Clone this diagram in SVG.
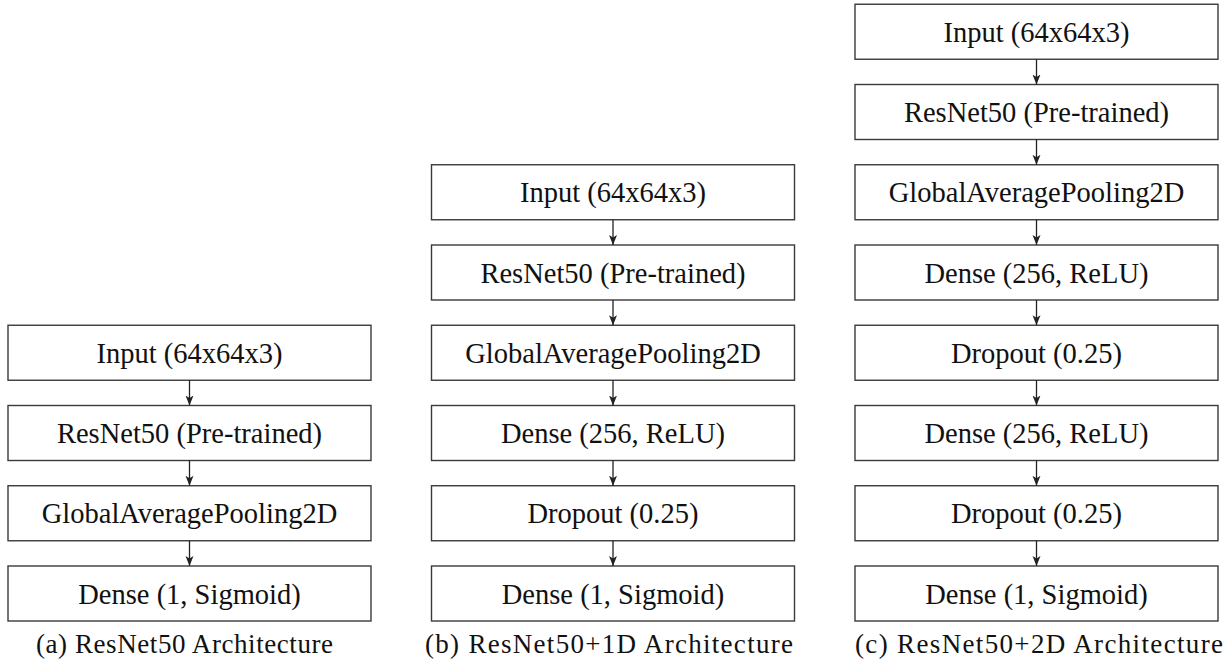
<svg xmlns="http://www.w3.org/2000/svg" width="1227" height="671" viewBox="0 0 1227 671">
<defs>
<marker id="ah" viewBox="0 0 10 10" refX="10" refY="5" markerWidth="10" markerHeight="10" markerUnits="userSpaceOnUse" orient="auto">
<path d="M0,1 L10,5 L0,9 L2.5,5 Z" fill="#222"/>
</marker>
</defs>
<style>
.box{fill:#fff;stroke:#3a3a3a;stroke-width:1.4}
.lbl{font-family:"Liberation Serif","Times New Roman",serif;font-size:28.5px;fill:#111;text-anchor:middle}
.cap{font-family:"Liberation Serif","Times New Roman",serif;font-size:27px;fill:#111;text-anchor:middle}
.arr{stroke:#222;stroke-width:1.3;fill:none;marker-end:url(#ah)}
</style>
<rect width="1227" height="671" fill="#fff"/>

<!-- Column a -->
<g id="a1"><rect class="box" x="8" y="325.25" width="363" height="55"/><text class="lbl" x="189.5" y="362.75">Input (64x64x3)</text></g>
<g id="a2"><rect class="box" x="8" y="405.5" width="363" height="55"/><text class="lbl" x="189.5" y="443">ResNet50 (Pre-trained)</text></g>
<g id="a3"><rect class="box" x="8" y="485.75" width="363" height="55"/><text class="lbl" x="189.5" y="523.25">GlobalAveragePooling2D</text></g>
<g id="a4"><rect class="box" x="8" y="566" width="363" height="55"/><text class="lbl" x="189.5" y="603.5">Dense (1, Sigmoid)</text></g>

<!-- Column b -->
<g id="b1"><rect class="box" x="431.5" y="164.75" width="363" height="55"/><text class="lbl" x="613" y="202.25">Input (64x64x3)</text></g>
<g id="b2"><rect class="box" x="431.5" y="245" width="363" height="55"/><text class="lbl" x="613" y="282.5">ResNet50 (Pre-trained)</text></g>
<g id="b3"><rect class="box" x="431.5" y="325.25" width="363" height="55"/><text class="lbl" x="613" y="362.75">GlobalAveragePooling2D</text></g>
<g id="b4"><rect class="box" x="431.5" y="405.5" width="363" height="55"/><text class="lbl" x="613" y="443">Dense (256, ReLU)</text></g>
<g id="b5"><rect class="box" x="431.5" y="485.75" width="363" height="55"/><text class="lbl" x="613" y="523.25">Dropout (0.25)</text></g>
<g id="b6"><rect class="box" x="431.5" y="566" width="363" height="55"/><text class="lbl" x="613" y="603.5">Dense (1, Sigmoid)</text></g>

<!-- Column c -->
<g id="c1"><rect class="box" x="855" y="4.25" width="363" height="55"/><text class="lbl" x="1036.5" y="41.75">Input (64x64x3)</text></g>
<g id="c2"><rect class="box" x="855" y="84.5" width="363" height="55"/><text class="lbl" x="1036.5" y="122">ResNet50 (Pre-trained)</text></g>
<g id="c3"><rect class="box" x="855" y="164.75" width="363" height="55"/><text class="lbl" x="1036.5" y="202.25">GlobalAveragePooling2D</text></g>
<g id="c4"><rect class="box" x="855" y="245" width="363" height="55"/><text class="lbl" x="1036.5" y="282.5">Dense (256, ReLU)</text></g>
<g id="c5"><rect class="box" x="855" y="325.25" width="363" height="55"/><text class="lbl" x="1036.5" y="362.75">Dropout (0.25)</text></g>
<g id="c6"><rect class="box" x="855" y="405.5" width="363" height="55"/><text class="lbl" x="1036.5" y="443">Dense (256, ReLU)</text></g>
<g id="c7"><rect class="box" x="855" y="485.75" width="363" height="55"/><text class="lbl" x="1036.5" y="523.25">Dropout (0.25)</text></g>
<g id="c8"><rect class="box" x="855" y="566" width="363" height="55"/><text class="lbl" x="1036.5" y="603.5">Dense (1, Sigmoid)</text></g>

<g id="connectors">
<line class="arr" x1="189.5" y1="380.25" x2="189.5" y2="405.5"/>
<line class="arr" x1="189.5" y1="460.5" x2="189.5" y2="485.75"/>
<line class="arr" x1="189.5" y1="540.75" x2="189.5" y2="566"/>

<line class="arr" x1="613" y1="219.75" x2="613" y2="245"/>
<line class="arr" x1="613" y1="300" x2="613" y2="325.25"/>
<line class="arr" x1="613" y1="380.25" x2="613" y2="405.5"/>
<line class="arr" x1="613" y1="460.5" x2="613" y2="485.75"/>
<line class="arr" x1="613" y1="540.75" x2="613" y2="566"/>

<line class="arr" x1="1036.5" y1="59.25" x2="1036.5" y2="84.5"/>
<line class="arr" x1="1036.5" y1="139.5" x2="1036.5" y2="164.75"/>
<line class="arr" x1="1036.5" y1="219.75" x2="1036.5" y2="245"/>
<line class="arr" x1="1036.5" y1="300" x2="1036.5" y2="325.25"/>
<line class="arr" x1="1036.5" y1="380.25" x2="1036.5" y2="405.5"/>
<line class="arr" x1="1036.5" y1="460.5" x2="1036.5" y2="485.75"/>
<line class="arr" x1="1036.5" y1="540.75" x2="1036.5" y2="566"/>
</g>

<g id="captions">
<text class="cap" x="184.5" y="653" textLength="297" lengthAdjust="spacing">(a) ResNet50 Architecture</text>
<text class="cap" x="609" y="653" textLength="368" lengthAdjust="spacing">(b) ResNet50+1D Architecture</text>
<text class="cap" x="1039" y="653" textLength="368" lengthAdjust="spacing">(c) ResNet50+2D Architecture</text>
</g>
</svg>
